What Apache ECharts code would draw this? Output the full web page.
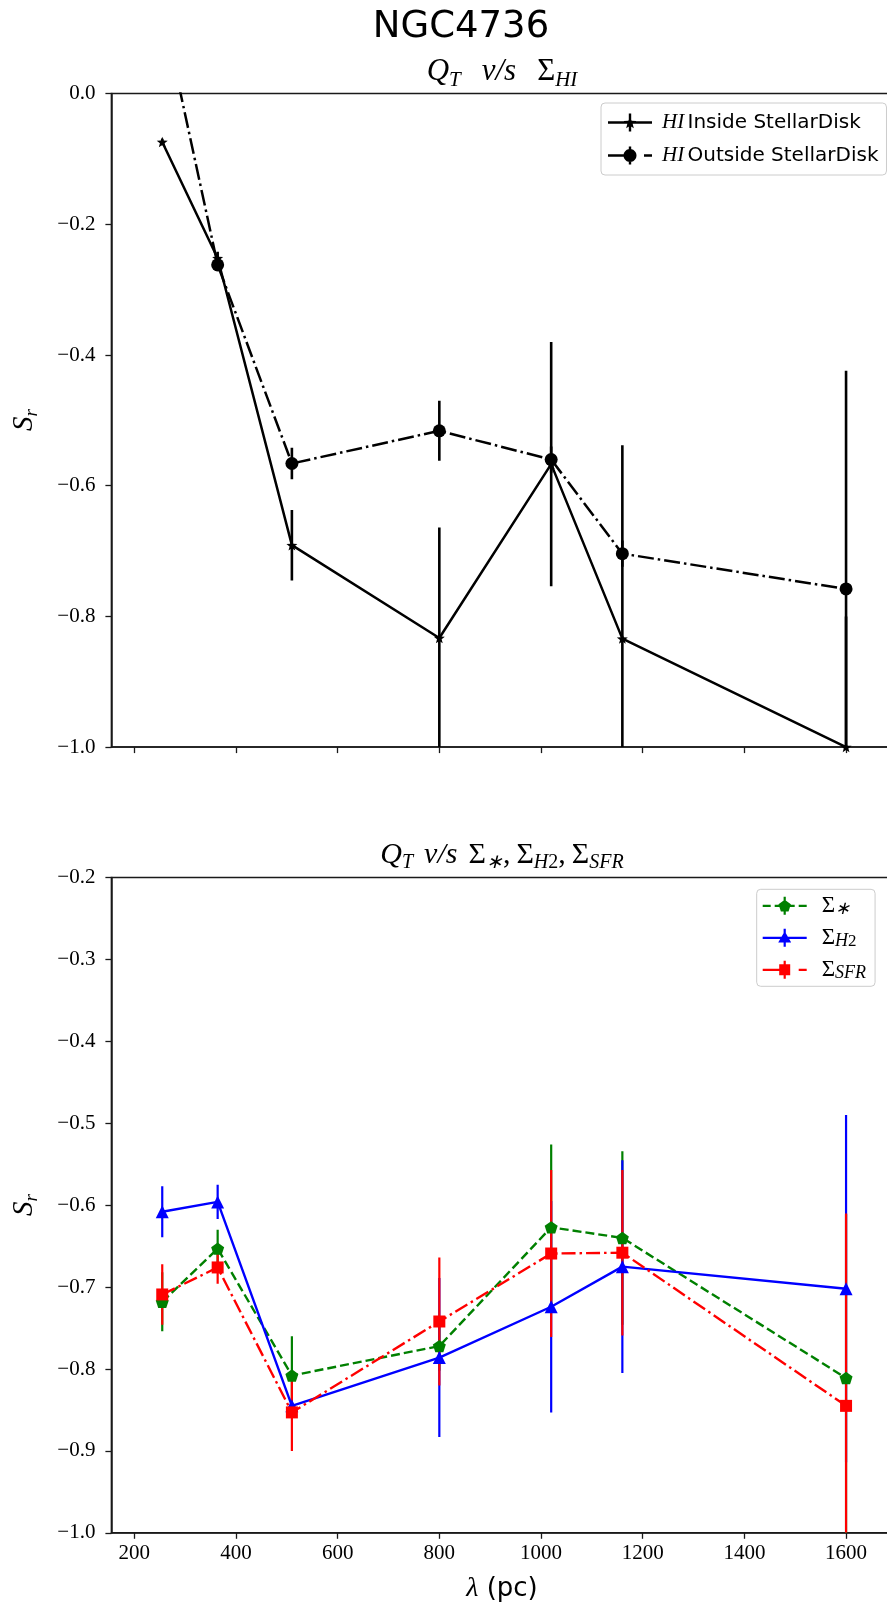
<!DOCTYPE html>
<html><head><meta charset="utf-8">
<script src="https://cdn.jsdelivr.net/npm/echarts@6/dist/echarts.min.js"></script>
<style>html,body{margin:0;padding:0;background:#fff}#c{width:887px;height:1608px}</style>
</head><body><div id="c"></div>
<script>
// ---------- data ----------
const lambdaPc = [255, 364, 510, 800, 1020, 1160, 1600];
const xTicks = [200, 400, 600, 800, 1000, 1200, 1400, 1600];

const hiInside = [-0.074, -0.252, -0.691, -0.833, -0.567, -0.834, -1.0];
const hiInsideErr = [0.005, 0.01, 0.054, 0.169, 0.187, 0.296, 0.2];
const hiOutside = [0.13, -0.262, -0.566, -0.516, -0.560, -0.704, -0.758];
const hiOutsideErr = [0.01, 0.01, 0.024, 0.046, 0.02, 0.02, 0.334];

const sigmaStar = [-0.718, -0.653, -0.808, -0.772, -0.627, -0.640, -0.811];
const sigmaStarErr = [0.036, 0.023, 0.048, 0.03, 0.101, 0.106, 0.2];
const sigmaH2 = [-0.608, -0.596, -0.845, -0.786, -0.724, -0.675, -0.702];
const sigmaH2Err = [0.031, 0.021, 0.01, 0.097, 0.129, 0.13, 0.212];
const sigmaSFR = [-0.709, -0.676, -0.853, -0.742, -0.659, -0.658, -0.845];
const sigmaSFRErr = [0.037, 0.02, 0.047, 0.078, 0.102, 0.101, 0.235];

const topY = {min: -1.0, max: 0.0, interval: 0.2};
const botY = {min: -1.0, max: -0.2, interval: 0.1};
const xRange = {min: 155, max: 1700};

// ---------- helpers (styling) ----------
function rectP(x0, y0, x1, y1) { return `M${x0} ${y0}H${x1}V${y1}H${x0}Z`; }
function polyP(cx, cy, r, n, startDeg, inner) {
  const m = inner ? n * 2 : n, pts = [];
  for (let i = 0; i < m; i++) {
    const rr = (inner && i % 2) ? inner : r;
    const a = (startDeg + i * 360 / m) * Math.PI / 180;
    pts.push([cx + rr * Math.cos(a), cy + rr * Math.sin(a)]);
  }
  return 'M' + pts.map(p => p[0].toFixed(2) + ' ' + p[1].toFixed(2)).join('L') + 'Z';
}
const starSym = 'path://' + polyP(0, 0, 10, 5, -90, 4.2);
const pentSym = 'path://' + polyP(0, 0, 10, 5, -90);

const bar = rectP(20.8, 0, 23.2, 18);
const iconInside = 'path://' + rectP(0, 7.8, 44, 10.2) + bar + polyP(22, 9.5, 6.5, 5, -90, 2.8);
const iconOutside = 'path://' + rectP(0, 7.8, 17, 10.2) + rectP(36, 7.8, 44, 10.2) + bar + polyP(22, 9, 6.5, 24, 0);
const iconStar = 'path://' + rectP(0, 7.9, 8, 10.1) + rectP(12, 7.9, 17, 10.1) + rectP(27, 7.9, 32, 10.1) + rectP(36, 7.9, 44, 10.1) + rectP(20.9, 0, 23.1, 18) + polyP(22, 9.5, 6.5, 5, -90);
const iconH2 = 'path://' + rectP(0, 7.9, 44, 10.1) + rectP(20.9, 0, 23.1, 18) + polyP(22, 10, 7.5, 3, -90);
const iconSFR = 'path://' + rectP(0, 7.9, 17, 10.1) + rectP(36, 7.9, 44, 10.1) + rectP(20.9, 0, 23.1, 18) + rectP(16.5, 3.5, 27.5, 14.5);

function yFmt(v) { return (v < -1e-9 ? '\u2212' : '') + Math.abs(v).toFixed(1); }

function lineSeries(name, vals, gi, color, dash, symbol, size, width) {
  return {
    type: 'line', name, xAxisIndex: gi, yAxisIndex: gi,
    data: lambdaPc.map((x, i) => [x, vals[i]]),
    lineStyle: {color, width, type: dash}, itemStyle: {color},
    symbol, symbolSize: size, symbolKeepAspect: true,
    showSymbol: true, showAllSymbol: true, clip: true, z: 3,
    emphasis: {disabled: true}, animation: false, silent: true
  };
}
function errSeries(vals, errs, gi, color, width, yr) {
  return {
    type: 'custom', xAxisIndex: gi, yAxisIndex: gi, z: 2, silent: true, clip: true, animation: false,
    data: lambdaPc.map((x, i) => [x, vals[i], errs[i]]),
    renderItem: (p, api) => {
      const x = api.value(0), y = api.value(1), e = api.value(2);
      const lo = Math.max(y - e, yr.min), hi = Math.min(y + e, yr.max);
      if (lo >= hi) return null;
      const a = api.coord([x, hi]), b = api.coord([x, lo]);
      return {type: 'line', shape: {x1: a[0], y1: a[1], x2: b[0], y2: b[1]}, style: {stroke: color, lineWidth: width}};
    }
  };
}

const tickFont = {fontFamily: 'Liberation Serif', fontSize: 21, color: '#000'};
const spine = '#1a1a1a';

function xAxis(gi, showLabels) {
  return {
    type: 'value', gridIndex: gi, min: xRange.min, max: xRange.max,
    axisLine: {show: true, onZero: false, lineStyle: {color: spine, width: 1.5}},
    axisTick: {show: true, length: 6, inside: false, customValues: xTicks, lineStyle: {color: spine, width: 1.3}},
    axisLabel: Object.assign({show: showLabels, margin: 10, customValues: xTicks, formatter: v => String(v)}, tickFont),
    splitLine: {show: false}
  };
}
function yAxis(gi, yr) {
  return {
    type: 'value', gridIndex: gi, min: yr.min, max: yr.max, interval: yr.interval,
    axisLine: {show: true, onZero: false, lineStyle: {color: spine, width: 1.5}},
    axisTick: {show: true, length: 6, inside: false, lineStyle: {color: spine, width: 1.3}},
    axisLabel: Object.assign({margin: 16, formatter: yFmt}, tickFont),
    splitLine: {show: false}
  };
}

function mk(size, sub, gap) {
  return {
    i: {fontFamily: 'Liberation Serif', fontStyle: 'italic', fontSize: size, lineHeight: size + 6, verticalAlign: 'middle', fill: '#000'},
    u: {fontFamily: 'Liberation Serif', fontSize: size, lineHeight: size + 6, verticalAlign: 'middle', fill: '#000'},
    b: {fontFamily: 'Liberation Serif', fontStyle: 'italic', fontSize: sub, lineHeight: sub, verticalAlign: 'bottom', fill: '#000'},
    n: {fontFamily: 'Liberation Serif', fontSize: sub, lineHeight: sub, verticalAlign: 'bottom', fill: '#000'},
    g: {width: gap, fontSize: size, lineHeight: size + 6},
    c: {width: 6, fontSize: size, lineHeight: size + 6}
  };
}
const richTop = mk(31, 21, 21);
const richBot = mk(30, 20, 11);
const richY = mk(29, 19, 0);

const legendTextTop = {
  'HI Inside StellarDisk': '{g| }{m|HI} {t|Inside StellarDisk}',
  'HI Outside StellarDisk': '{g| }{m|HI} {t|Outside StellarDisk}'
};
const legendTextBot = {
  'Σ*': '{g| }{S|Σ}{s|∗}',
  'ΣH2': '{g| }{S|Σ}{s|H}{n|2}',
  'ΣSFR': '{g| }{S|Σ}{s|SFR}'
};

const gridBase = {left: 111.4, width: 785.5, show: true, borderColor: spine, borderWidth: 1.5, containLabel: false, outerBoundsMode: 'none'};

const chart = echarts.init(document.getElementById('c'), null, {renderer: 'canvas'});
chart.setOption({
  backgroundColor: '#fff',
  animation: false,
  grid: [
    Object.assign({top: 93.6, height: 653.5}, gridBase),
    Object.assign({top: 877.6, height: 655.2}, gridBase)
  ],
  xAxis: [xAxis(0, false), xAxis(1, true)],
  yAxis: [yAxis(0, topY), yAxis(1, botY)],
  legend: [
    {
      orient: 'vertical', left: 601, top: 103, padding: [9, 8, 9, 7], itemGap: 12,
      itemWidth: 44, itemHeight: 18, selectedMode: false,
      backgroundColor: 'rgba(255,255,255,0.85)', borderColor: '#cccccc', borderWidth: 1, borderRadius: 4,
      itemStyle: {borderWidth: 0},
      formatter: n => legendTextTop[n],
      textStyle: {rich: {
        g: {width: 5},
        m: {fontFamily: 'Liberation Serif', fontStyle: 'italic', fontSize: 21, color: '#000'},
        t: {fontFamily: 'DejaVu Sans', fontSize: 20, color: '#000'}
      }},
      data: [
        {name: 'HI Inside StellarDisk', icon: iconInside, itemStyle: {color: '#000'}},
        {name: 'HI Outside StellarDisk', icon: iconOutside, itemStyle: {color: '#000'}}
      ]
    },
    {
      orient: 'vertical', left: 756.7, top: 889.3, padding: [5, 9, 4, 6], itemGap: 8,
      itemWidth: 44, itemHeight: 18, selectedMode: false,
      backgroundColor: 'rgba(255,255,255,0.85)', borderColor: '#cccccc', borderWidth: 1, borderRadius: 4,
      itemStyle: {borderWidth: 0},
      formatter: n => legendTextBot[n],
      textStyle: {rich: {
        g: {width: 10},
        S: {fontFamily: 'Liberation Serif', fontSize: 23, lineHeight: 25, verticalAlign: 'middle', color: '#000'},
        s: {fontFamily: 'Liberation Serif', fontStyle: 'italic', fontSize: 18, lineHeight: 16, verticalAlign: 'bottom', color: '#000'},
        n: {fontFamily: 'Liberation Serif', fontSize: 17, lineHeight: 16, verticalAlign: 'bottom', color: '#000'}
      }},
      data: [
        {name: 'Σ*', icon: iconStar, itemStyle: {color: '#008000'}},
        {name: 'ΣH2', icon: iconH2, itemStyle: {color: '#0000ff'}},
        {name: 'ΣSFR', icon: iconSFR, itemStyle: {color: '#ff0000'}}
      ]
    }
  ],
  graphic: [
    {type: 'text', x: 461, y: 27, style: {text: 'NGC4736', font: '37px "DejaVu Sans"', fill: '#000', align: 'center', verticalAlign: 'middle'}},
    {type: 'text', x: 502, y: 72, style: {text: '{i|Q}{b|T}{g| }{i|v/s}{g| }{u|Σ}{b|HI}', rich: richTop, align: 'center', verticalAlign: 'middle'}},
    {type: 'text', x: 502, y: 855, style: {text: '{i|Q}{b|T}{g| }{i|v/s}{g| }{u|Σ}{b|∗}{u|,}{c| }{u|Σ}{b|H}{n|2}{u|,}{c| }{u|Σ}{b|SFR}', rich: richBot, align: 'center', verticalAlign: 'middle'}},
    {type: 'text', x: 502, y: 1589, style: {text: '{l|λ}{p| (pc)}', align: 'center', verticalAlign: 'middle', rich: {
      l: {fontFamily: 'Liberation Serif', fontStyle: 'italic', fontSize: 28, fill: '#000'},
      p: {fontFamily: 'DejaVu Sans', fontSize: 26, fill: '#000'}}}},
    {type: 'text', x: 24, y: 420, rotation: Math.PI / 2, style: {text: '{i|S}{b|r}', rich: richY, align: 'center', verticalAlign: 'middle'}},
    {type: 'text', x: 24, y: 1205, rotation: Math.PI / 2, style: {text: '{i|S}{b|r}', rich: richY, align: 'center', verticalAlign: 'middle'}}
  ],
  series: [
    errSeries(hiInside, hiInsideErr, 0, '#000', 2.6, topY),
    errSeries(hiOutside, hiOutsideErr, 0, '#000', 2.6, topY),
    lineSeries('HI Inside StellarDisk', hiInside, 0, '#000', 'solid', starSym, 11, 2.5),
    lineSeries('HI Outside StellarDisk', hiOutside, 0, '#000', [16, 4, 2.5, 4], 'circle', 13, 2.5),
    errSeries(sigmaStar, sigmaStarErr, 1, '#008000', 2.2, botY),
    errSeries(sigmaH2, sigmaH2Err, 1, '#0000ff', 2.2, botY),
    errSeries(sigmaSFR, sigmaSFRErr, 1, '#ff0000', 2.2, botY),
    lineSeries('Σ*', sigmaStar, 1, '#008000', [9, 4], pentSym, 13, 2.4),
    lineSeries('ΣH2', sigmaH2, 1, '#0000ff', 'solid', 'triangle', 13, 2.4),
    lineSeries('ΣSFR', sigmaSFR, 1, '#ff0000', [14, 4, 2.5, 4], 'rect', 12, 2.4)
  ]
});
</script>
</body></html>
